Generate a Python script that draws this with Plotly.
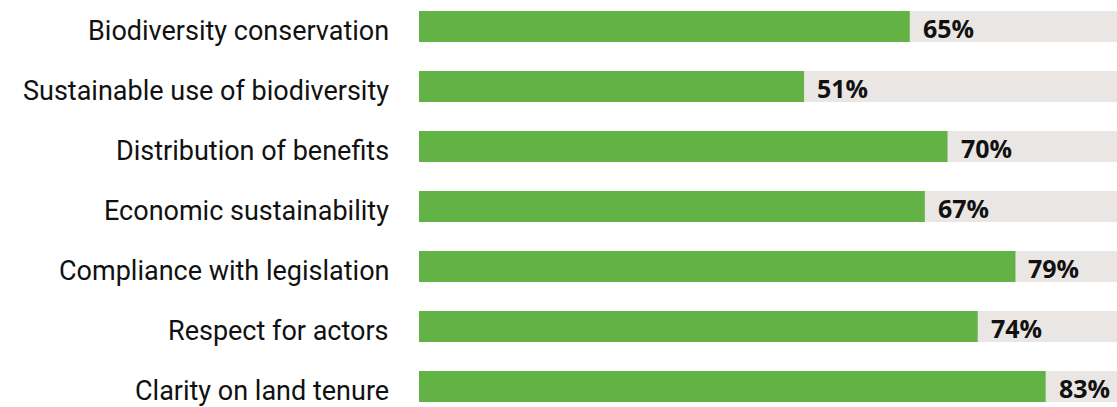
import plotly.graph_objects as go

categories = [
    "Biodiversity conservation",
    "Sustainable use of biodiversity",
    "Distribution of benefits",
    "Economic sustainability",
    "Compliance with legislation",
    "Respect for actors",
    "Clarity on land tenure",
]
values = [65, 51, 70, 67, 79, 74, 83]
full_scale = [100] * len(categories)
value_labels = [f"{v}%" for v in values]

GREEN = "#63b246"
GREY = "#eae6e3"
INK = "#111111"

fig = go.Figure()

# grey track behind each bar
fig.add_trace(go.Bar(
    y=categories, x=full_scale, orientation="h",
    marker=dict(color=GREY, line=dict(width=0)),
    width=0.517, hoverinfo="skip", showlegend=False,
))

# green share bars
fig.add_trace(go.Bar(
    y=categories, x=values, orientation="h",
    marker=dict(color=GREEN, line=dict(width=0)),
    width=0.517, showlegend=False,
))

# category names to the left of the bars
for cat in categories:
    fig.add_annotation(
        x=0, xref="paper", y=cat, text=cat, showarrow=False,
        xanchor="right", yanchor="middle", xshift=-28, yshift=-4,
        font=dict(family="Roboto", size=27, color=INK),
    )

# percentage labels next to the bar ends
for cat, v, lab in zip(categories, values, value_labels):
    fig.add_annotation(
        x=v, y=cat, text=f"<b>{lab}</b>", showarrow=False,
        xanchor="left", yanchor="middle", xshift=11, yshift=-1,
        font=dict(family="Open Sans", size=25, color=INK),
    )

fig.update_layout(
    width=1117, height=407,
    margin=dict(l=419, r=0, t=0, b=0),
    barmode="overlay",
    plot_bgcolor="white", paper_bgcolor="white",
    xaxis=dict(range=[0, 92.45], visible=False, fixedrange=True),
    yaxis=dict(
        categoryorder="array", categoryarray=categories,
        range=[6.3417, -0.4417],
        showgrid=False, zeroline=False, showline=False,
        showticklabels=False, ticks="",
    ),
)

fig.write_html("out.html")
